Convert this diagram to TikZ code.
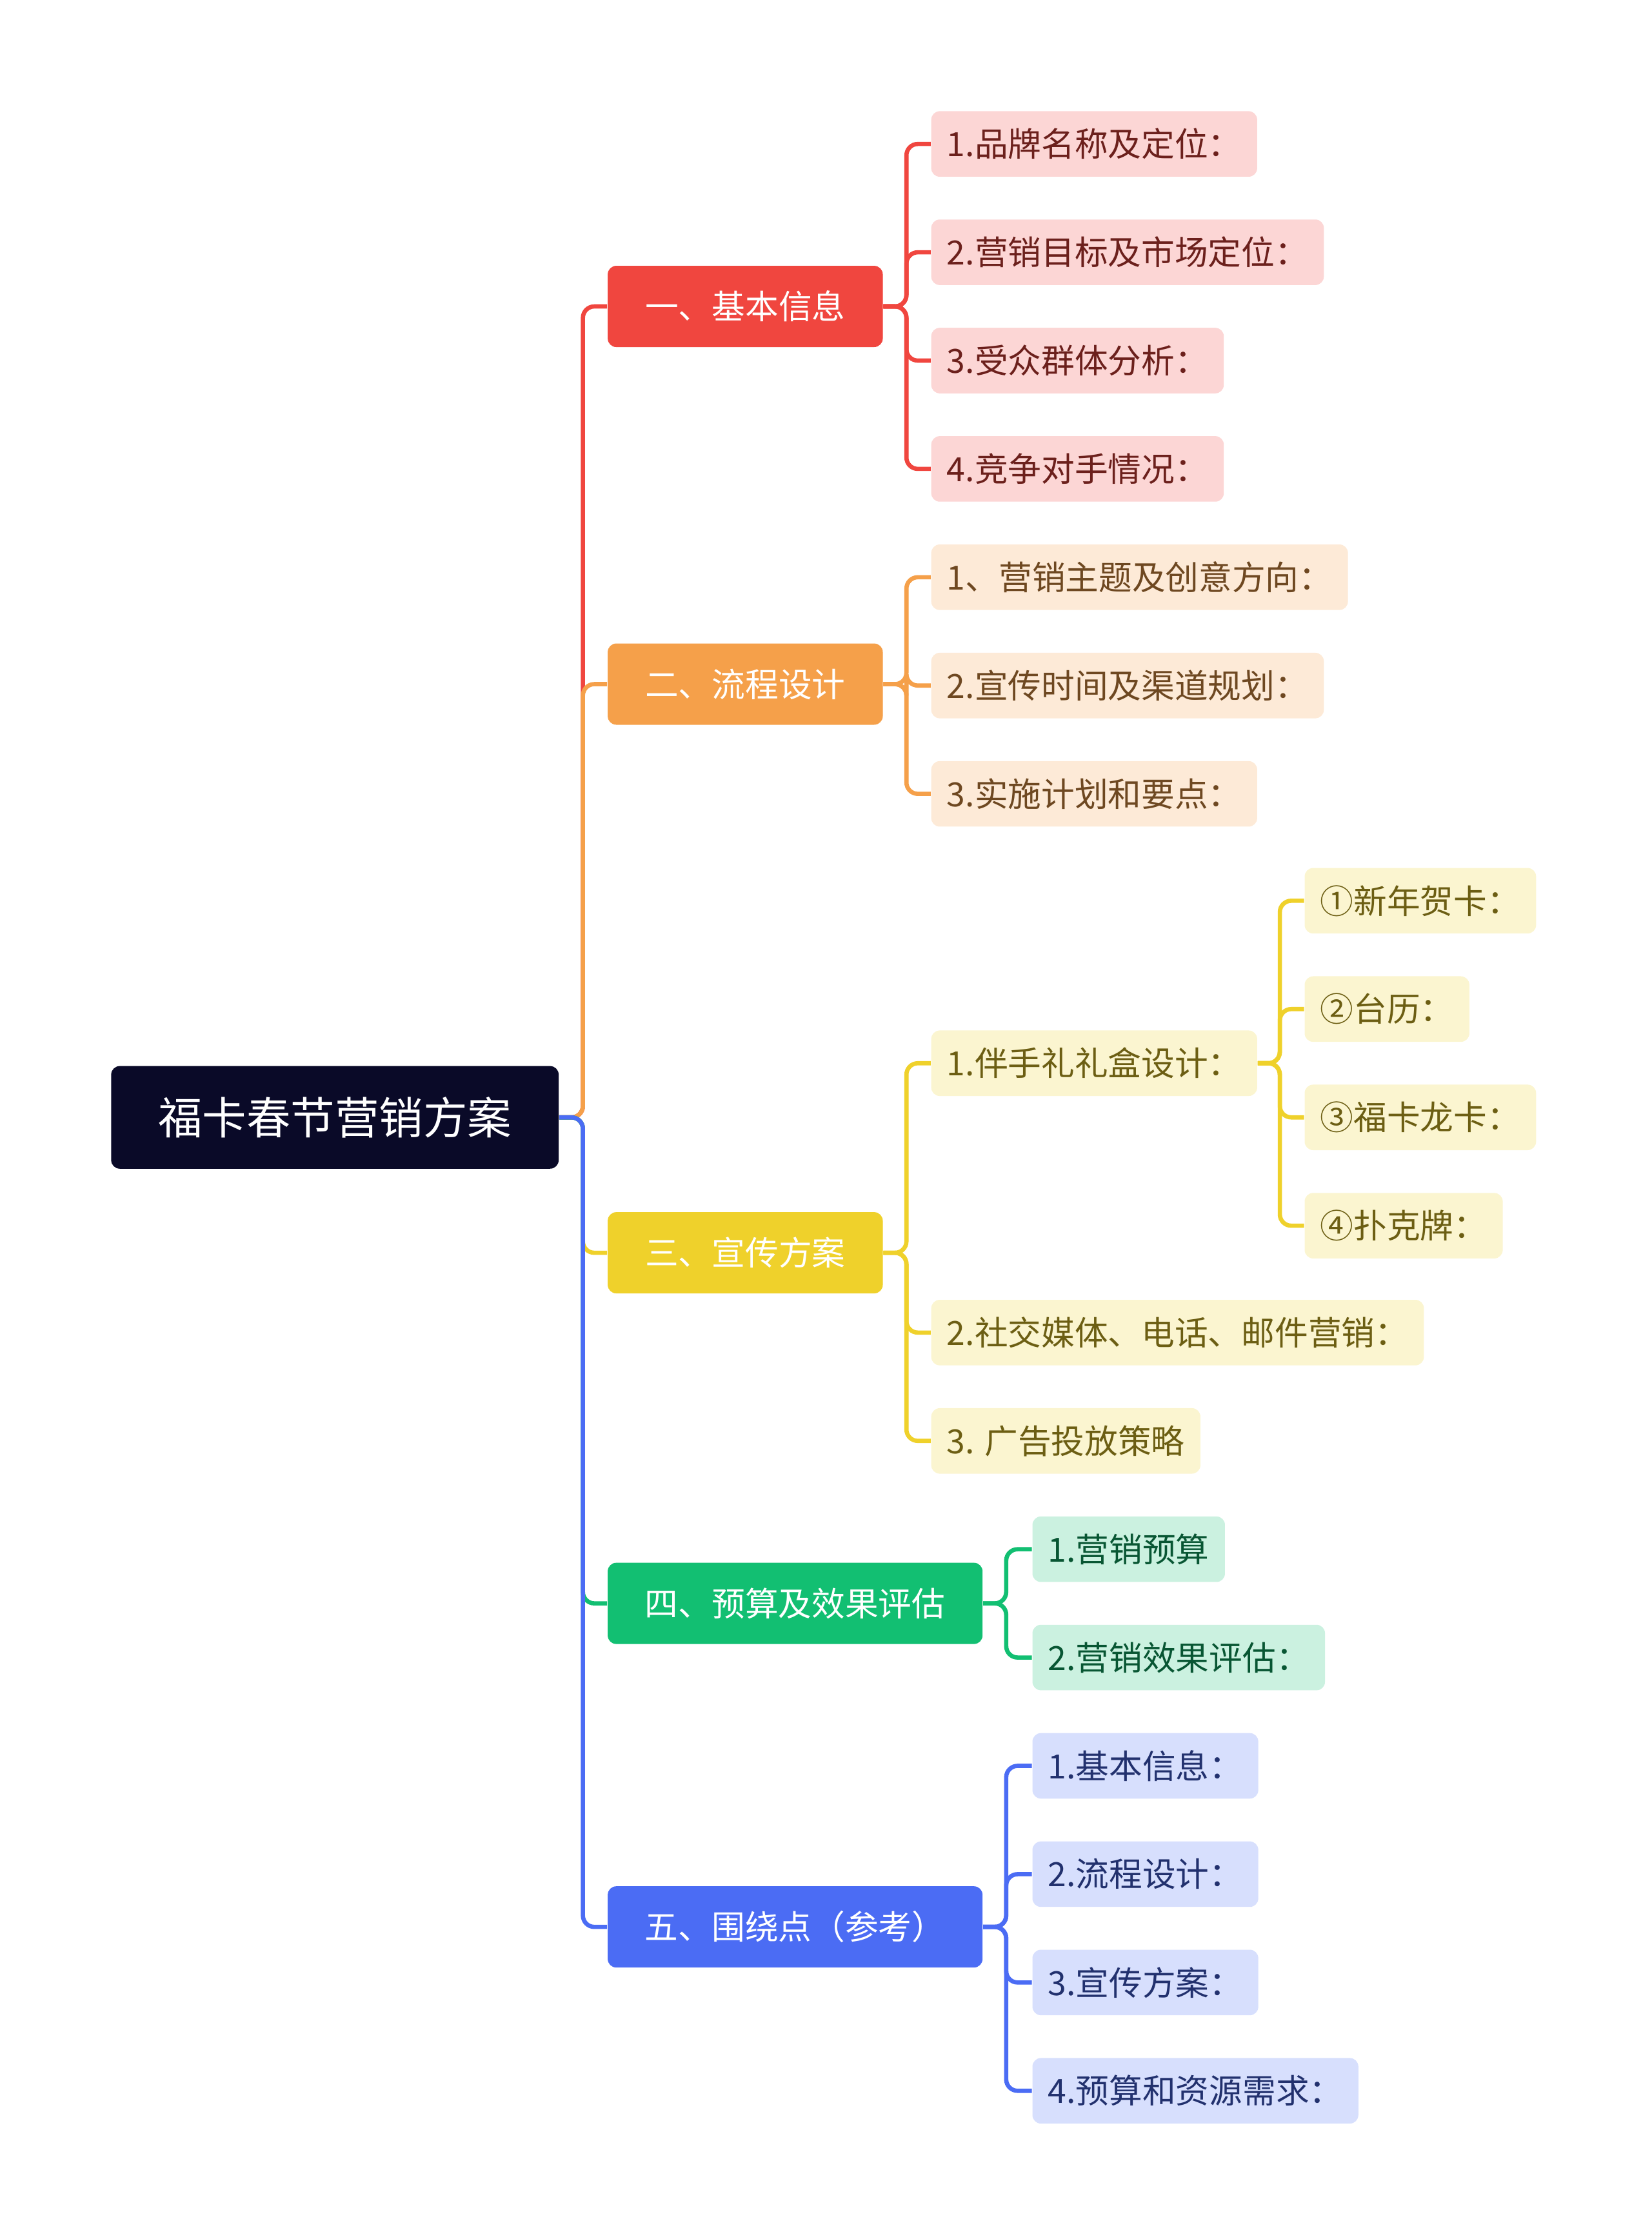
\documentclass[tikz,border=0pt]{standalone}
\usepackage{fontspec}
\setmainfont{Noto Sans CJK SC}
\usetikzlibrary{positioning}
\definecolor{rootc}{HTML}{0A0A28}
\definecolor{redc}{HTML}{F0463F}
\definecolor{orgc}{HTML}{F5A04A}
\definecolor{yelc}{HTML}{EFD12B}
\definecolor{grnc}{HTML}{12BF72}
\definecolor{bluc}{HTML}{4B6CF4}
\tikzset{
    % Main topic and its branches
    root box/.style={fill=rootc, text=white, rounded corners=3pt,
        minimum width=157pt, minimum height=36pt, font=\fontsize{15.5}{18}\selectfont},
    branch box/.style={fill=#1, text=white, rounded corners=3pt, anchor=west,
        minimum height=28.5pt, inner xsep=13pt, font=\fontsize{11.7}{13}\selectfont},
    % Leaves in a light tint of the branch colour
    leaf box/.style={fill=#1!22, text=#1!45!black, rounded corners=3pt, anchor=west,
        minimum height=23pt, inner xsep=5.5pt, font=\fontsize{11.7}{13}\selectfont},
    link/.style={draw=#1, line width=1.5pt, rounded corners=4pt}}
\begin{document}
\begin{tikzpicture}[x=0.5pt, y=-0.5pt]
\useasboundingbox (0,0) rectangle (1159,1571);

\node[root box] (root) at (235,784) {福卡春节营销方案};

% First level topics
\node[branch box=redc, minimum width=96.5pt] (basic) at (426,215) {一、基本信息};
\node[branch box=orgc, minimum width=96.5pt] (flow) at (426,480) {二、流程设计};
\node[branch box=yelc, minimum width=96.5pt] (promo) at (426,879) {三、宣传方案};
\node[branch box=grnc, minimum width=131.5pt] (budget) at (426,1125) {四、预算及效果评估};
\node[branch box=bluc, minimum width=131.5pt] (focus) at (426,1352) {五、围绕点（参考）};

\draw[link=redc] (root.east) -- (409,784) |- (basic.west);
\draw[link=orgc] (root.east) -- (409,784) |- (flow.west);
\draw[link=yelc] (root.east) -- (409,784) |- (promo.west);
\draw[link=grnc] (root.east) -- (409,784) |- (budget.west);
\draw[link=bluc] (root.east) -- (409,784) |- (focus.west);

% Leaves of the first topic
\node[leaf box=redc] (b1) at (653,101) {1.品牌名称及定位：};
\node[leaf box=redc] (b2) at (653,177) {2.营销目标及市场定位：};
\node[leaf box=redc] (b3) at (653,253) {3.受众群体分析：};
\node[leaf box=redc] (b4) at (653,329) {4.竞争对手情况：};
\foreach \n in {b1,b2,b3,b4}
    \draw[link=redc] (basic.east) -- (636,215) |- (\n.west);

% Leaves of the second topic
\node[leaf box=orgc] (f1) at (653,405) {1、营销主题及创意方向：};
\node[leaf box=orgc] (f2) at (653,481) {2.宣传时间及渠道规划：};
\node[leaf box=orgc] (f3) at (653,557) {3.实施计划和要点：};
\foreach \n in {f1,f2,f3}
    \draw[link=orgc] (flow.east) -- (636,480) |- (\n.west);

% Leaves of the third topic
\node[leaf box=yelc] (p1) at (653,746) {1.伴手礼礼盒设计：};
\node[leaf box=yelc] (p2) at (653,935) {2.社交媒体、电话、邮件营销：};
\node[leaf box=yelc] (p3) at (653,1011) {3. 广告投放策略};
\foreach \n in {p1,p2,p3}
    \draw[link=yelc] (promo.east) -- (636,879) |- (\n.west);
\node[leaf box=yelc] (g1) at (915,632) {①新年贺卡：};
\node[leaf box=yelc] (g2) at (915,708) {②台历：};
\node[leaf box=yelc] (g3) at (915,784) {③福卡龙卡：};
\node[leaf box=yelc] (g4) at (915,860) {④扑克牌：};
\foreach \n in {g1,g2,g3,g4}
    \draw[link=yelc] (p1.east) -- (898,746) |- (\n.west);

% Leaves of the fourth topic
\node[leaf box=grnc] (e1) at (724,1087) {1.营销预算};
\node[leaf box=grnc] (e2) at (724,1163) {2.营销效果评估：};
\foreach \n in {e1,e2}
    \draw[link=grnc] (budget.east) -- (706,1125) |- (\n.west);

% Leaves of the fifth topic
\node[leaf box=bluc] (r1) at (724,1239) {1.基本信息：};
\node[leaf box=bluc] (r2) at (724,1315) {2.流程设计：};
\node[leaf box=bluc] (r3) at (724,1391) {3.宣传方案：};
\node[leaf box=bluc] (r4) at (724,1467) {4.预算和资源需求：};
\foreach \n in {r1,r2,r3,r4}
    \draw[link=bluc] (focus.east) -- (706,1352) |- (\n.west);
\end{tikzpicture}
\end{document}
